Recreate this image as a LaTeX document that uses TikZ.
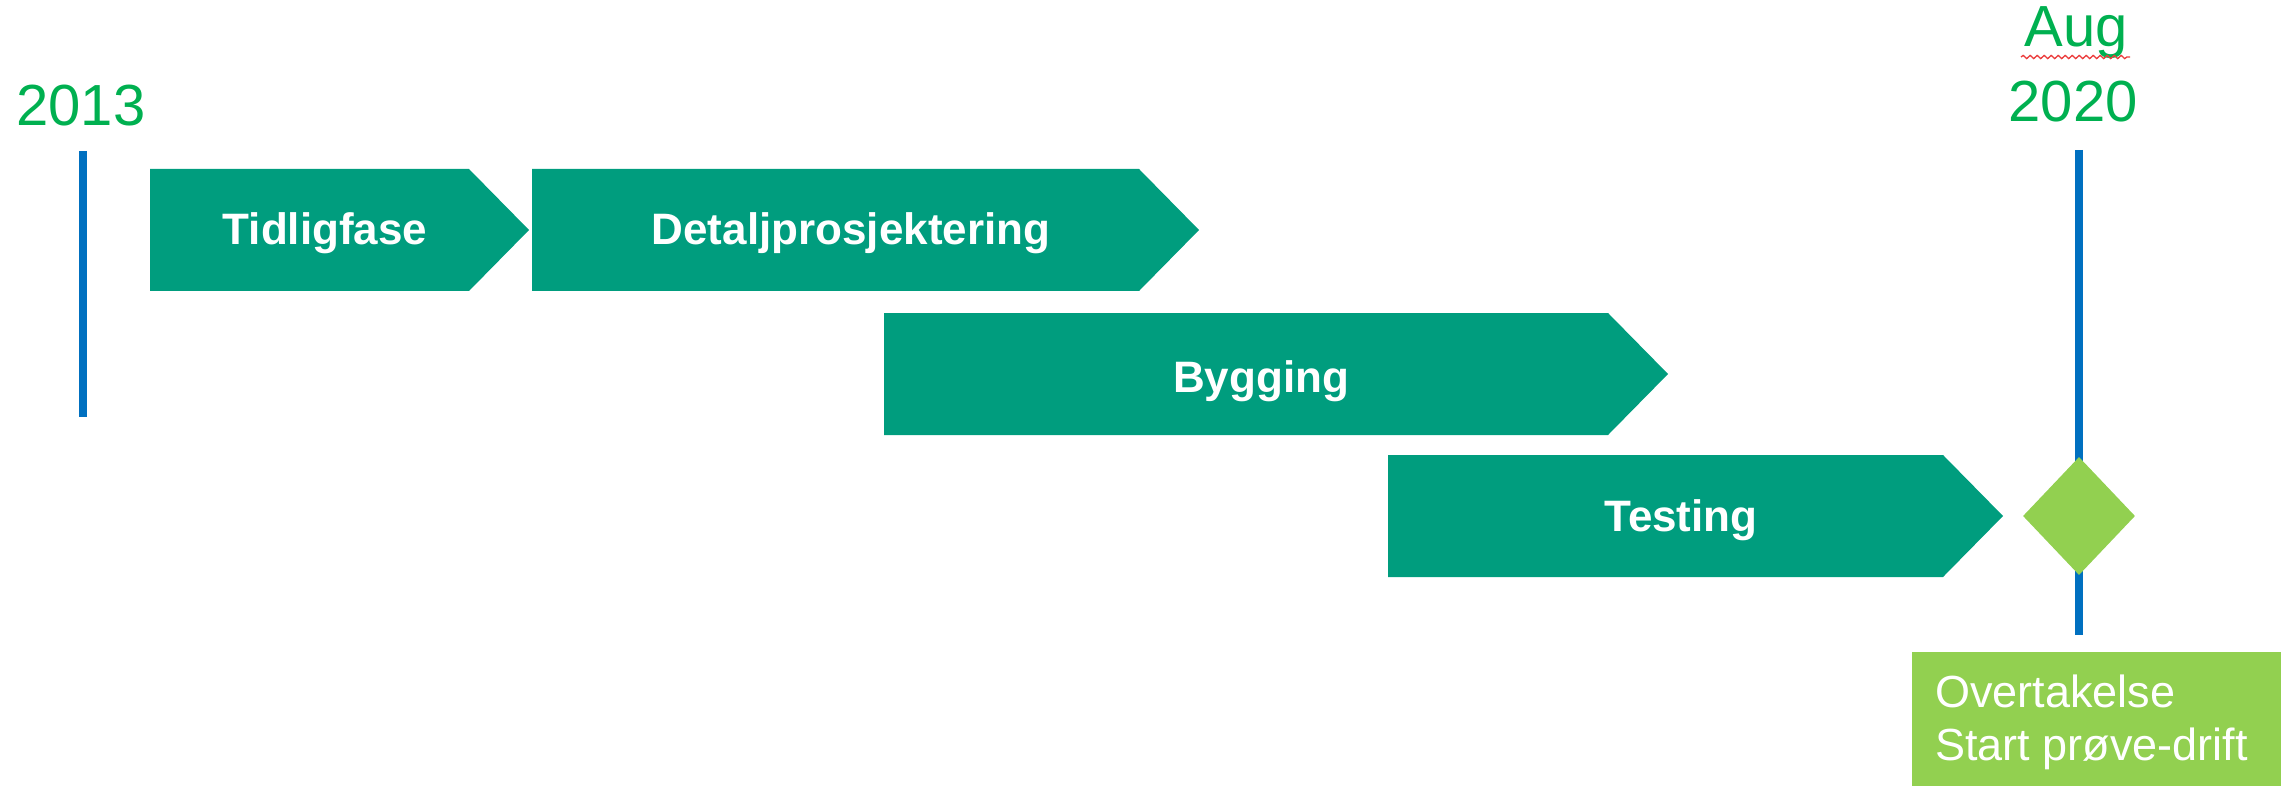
\documentclass[tikz,border=0pt]{standalone}
\usepackage{fontspec}
\setmainfont{Liberation Sans}
\usetikzlibrary{shapes.geometric,decorations.pathmorphing}
\definecolor{phasegreen}{RGB}{0,157,126}
\definecolor{lightgreen}{RGB}{146,208,80}
\definecolor{yeargreen}{RGB}{0,176,80}
\definecolor{lineblue}{RGB}{0,112,192}
\definecolor{spellred}{RGB}{235,60,60}
\begin{document}
\begin{tikzpicture}[x=1pt,y=-1pt,
  phasebar/.style={fill=phasegreen},
  phaselabel/.style={text=white,font=\fontsize{44}{50}\selectfont\bfseries,anchor=base,inner sep=0pt},
  yearlabel/.style={text=yeargreen,font=\fontsize{58}{64}\selectfont,anchor=base,inner sep=0pt},
  timeline/.style={draw=lineblue,line width=7.5pt},
  notelabel/.style={text=white,font=\fontsize{45}{53}\selectfont,anchor=base west,inner sep=0pt},
]
\path[use as bounding box] (0,0) rectangle (2288,786);

% start of the timeline
\node[yearlabel] (y2013) at (81,126) {2013};
\coordinate (startTop) at (83,151);
\coordinate (startBot) at (83,417);
\draw[timeline] (startTop) -- (startBot);

% end of the timeline
\node[yearlabel] (aug) at (2076,47) {Aug};
\coordinate (wavyL) at (2021,57);
\coordinate (wavyR) at (2130,57);
\draw[spellred,line width=1.3pt,decorate,decoration={snake,segment length=7pt,amplitude=1.6pt}] (wavyL) -- (wavyR);
\node[yearlabel] (y2020) at (2073,122) {2020};
\coordinate (endTop) at (2079,150);
\coordinate (endBot) at (2079,635);
\draw[timeline] (endTop) -- (endBot);

% phases
\fill[phasebar] (150,169) -- (469,169) -- (529,230) -- (469,291) -- (150,291) -- cycle;
\node[phaselabel] (tidlig) at (325,245) {Tidligfase};

\fill[phasebar] (532,169) -- (1139,169) -- (1199,230) -- (1139,291) -- (532,291) -- cycle;
\node[phaselabel] (detalj) at (851,245) {Detaljprosjektering};

\fill[phasebar] (884,313) -- (1608,313) -- (1668,374) -- (1608,435) -- (884,435) -- cycle;
\node[phaselabel] (bygg) at (1261,392) {Bygging};

\fill[phasebar] (1388,455) -- (1943,455) -- (2003,516) -- (1943,577) -- (1388,577) -- cycle;
\node[phaselabel] (test) at (1681,531) {Testing};

% milestone
\node[diamond,fill=lightgreen,inner sep=0pt,minimum width=112pt,minimum height=118pt] (milestone) at (2079,516) {};

\fill[lightgreen] (1912,652) rectangle (2281,786);
\node[notelabel] (overtak) at (1935,707) {Overtakelse};
\node[notelabel] (drift) at (1935,760) {Start prøve-drift};
\end{tikzpicture}
\end{document}
